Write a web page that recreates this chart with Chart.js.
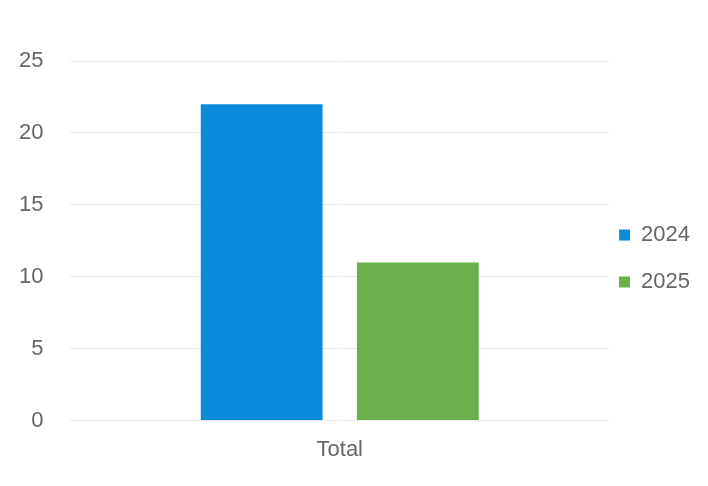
<!DOCTYPE html>
<html>
<head>
<meta charset="utf-8">
<script src="https://cdn.jsdelivr.net/npm/chart.js@4/dist/chart.umd.min.js"></script>
<style>
  html, body { margin: 0; padding: 0; background: #fff; }
  #wrap { width: 708px; height: 486px; }
</style>
</head>
<body>
<div id="wrap"><canvas id="grafico"></canvas></div>
<script>
/* Datos del gráfico */
var categorias = ['Total'];
var valores2024 = [22];
var valores2025 = [11];
var ticksY = [0, 5, 10, 15, 20, 25];

var marco = document.getElementById('grafico').getContext('2d');

var grafico = new Chart(marco, {
    type: 'bar',
    data: {
        labels: categorias,
        datasets: [{
            label: '2024',
            data: valores2024,
            backgroundColor: '#0b8bd9'
        }, {
            label: '2025',
            data: valores2025,
            backgroundColor: '#6aaf4a'
        }]
    },
    options: {
        responsive: true,
        maintainAspectRatio: false,
        animation: false,
        categoryPercentage: 0.58,
        barPercentage: 0.78,
        layout: {
            padding: { top: 61, right: 8, bottom: 15, left: -8 }
        },
        plugins: {
            legend: {
                position: 'right',
                labels: {
                    boxWidth: 11,
                    boxHeight: 11,
                    padding: 10,
                    color: '#666',
                    font: { family: 'Liberation Sans', size: 22, lineHeight: 1.68 },
                    // texto en array para que use el alto de línea
                    generateLabels: function (chart) {
                        var items = Chart.defaults.plugins.legend.labels.generateLabels(chart);
                        items.forEach(function (it) { it.text = [it.text]; });
                        return items;
                    }
                }
            },
            tooltip: { enabled: false }
        },
        scales: {
            y: {
                min: 0,
                max: 25,
                afterBuildTicks: function (eje) {
                    eje.ticks = ticksY.map(function (v) { return { value: v }; });
                },
                border: { display: false },
                grid: { color: '#ececec', drawTicks: false },
                ticks: {
                    padding: 27,
                    color: '#666',
                    font: { family: 'Liberation Sans', size: 22 }
                }
            },
            x: {
                border: { display: false },
                grid: { display: false },
                ticks: {
                    padding: 8,
                    color: '#666',
                    font: { family: 'Liberation Sans', size: 22 }
                }
            }
        }
    }
});
</script>
</body>
</html>
